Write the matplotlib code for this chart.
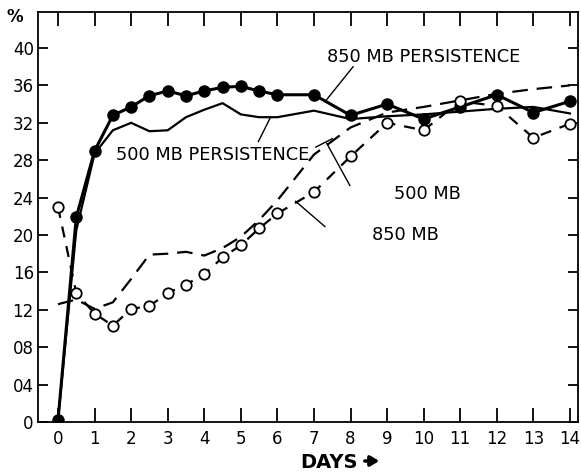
import matplotlib
matplotlib.use("Agg")
import matplotlib.pyplot as plt

# forecast day for each plotted point
days = [0, 0.5, 1, 1.5, 2, 2.5, 3, 3.5, 4, 4.5, 5, 5.5, 6, 7, 8, 9, 10, 11, 12, 13, 14]

# percent values per series
persist_850 = [0.2, 21.9, 29.0, 32.8, 33.7, 34.9, 35.4, 34.9, 35.4, 35.8, 35.9, 35.4, 35.0,
               35.0, 32.8, 34.0, 32.4, 33.7, 35.0, 33.1, 34.3]
persist_500 = [0.2, 20.5, 28.7, 31.2, 32.0, 31.1, 31.2, 32.6, 33.4, 34.1, 32.9, 32.6, 32.6,
               33.3, 32.4, 32.7, 32.9, 33.2, 33.5, 33.7, 33.0]
mb_850 = [23.0, 13.8, 11.6, 10.3, 12.1, 12.4, 13.8, 14.7, 15.8, 17.6, 18.9, 20.7, 22.3,
          24.6, 28.4, 32.0, 31.2, 34.3, 33.8, 30.4, 31.9]
mb_500 = [12.6, 13.1, 12.1, 12.8, 15.3, 17.9, 18.0, 18.2, 17.8, 18.6, 19.8, 21.6, 23.7,
          28.6, 31.5, 33.1, 33.7, 34.4, 35.1, 35.6, 36.0]

y_ticks = [0, 4, 8, 12, 16, 20, 24, 28, 32, 36, 40]
y_tick_labels = ["0", "04", "08", "12", "16", "20", "24", "28", "32", "36", "40"]
x_ticks = list(range(15))

plt.rcParams['font.family'] = ['DejaVu Sans']

fig = plt.figure(figsize=(5.81, 4.75), dpi=100)
ax = fig.add_axes([0.0654, 0.1116, 0.9294, 0.8631])

ax.plot(days, persist_500, color='black', lw=1.6)
ax.plot(days, persist_850, color='black', lw=2.2, marker='o', ms=8,
        markerfacecolor='black', markeredgecolor='black')
ax.plot(days, mb_500, color='black', lw=1.6, dashes=(7, 4))
ax.plot(days, mb_850, color='black', lw=1.6, dashes=(5, 4), marker='o', ms=7.5,
        markerfacecolor='white', markeredgecolor='black', markeredgewidth=1.3)

ax.set_xlim(-0.547, 14.22)
ax.set_ylim(0, 43.85)
ax.set_xticks(x_ticks)
ax.set_xticklabels([str(d) for d in x_ticks], fontsize=12)
ax.set_yticks(y_ticks)
ax.set_yticklabels(y_tick_labels, fontsize=12)
ax.tick_params(axis='x', direction='in', length=10, width=1.3, top=True, pad=6)
ax.tick_params(axis='y', direction='in', length=7, width=1.3, right=True, pad=3)
for s in ax.spines.values():
    s.set_linewidth(1.3)

# curve labels and their leader lines
lbl = dict(fontsize=12.8, ha='center', va='center')
ax.text(10.0, 39.0, "850 MB PERSISTENCE", **lbl)
ax.text(4.24, 28.55, "500 MB PERSISTENCE", **lbl)
ax.text(10.1, 24.4, "500 MB", **lbl)
ax.text(9.5, 20.0, "850 MB", **lbl)

lead = dict(color='black', lw=1.0)
ax.plot([8.07, 7.3], [38.0, 34.25], **lead)
ax.plot([5.8, 5.48], [32.5, 30.0], **lead)
ax.plot([7.35, 7.98], [29.8, 25.3], **lead)
ax.plot([7.05, 7.5], [29.4, 30.3], **lead)
ax.plot([6.5, 7.3], [23.6, 20.9], **lead)

fig.text(15 / 581, 1 - 17 / 475, "%", fontsize=12, fontweight='bold', ha='center', va='center')
fig.text(329 / 581, 1 - 463 / 475, "DAYS", fontsize=14, fontweight='bold', ha='center', va='center')
ax.annotate('', xy=(382, 475 - 461), xytext=(362, 475 - 461), xycoords='figure pixels',
            textcoords='figure pixels',
            arrowprops=dict(arrowstyle='-|>,head_length=0.5,head_width=0.3', lw=2.5, color='black'))

fig.savefig("out.png", dpi=100)
